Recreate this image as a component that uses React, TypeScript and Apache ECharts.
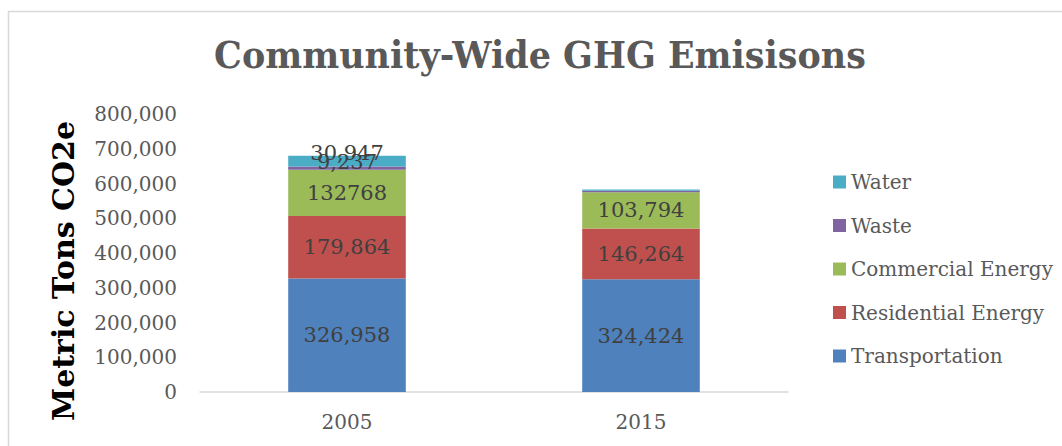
import React, { useEffect, useRef } from "react";
import * as echarts from "echarts";

const years = ["2005", "2015"];
const transportation = [326958, 324424];
const residential = [179864, 146264];
const commercial = [132768, 103794];
const waste = [9237, 4500];
const water = [30947, 3500];

const transportationLabels = ["326,958", "324,424"];
const residentialLabels = ["179,864", "146,264"];
const commercialLabels = ["132768", "103,794"];
const wasteLabels = ["9,237", ""];
const waterLabels = ["30,947", ""];

const yTicks = [0, 100000, 200000, 300000, 400000, 500000, 600000, 700000, 800000];

const FONT = "'DejaVu Serif', serif";
const GREY = "#595959";

export default function App() {
  const ref = useRef<HTMLDivElement>(null);
  useEffect(() => {
    const chart = echarts.init(ref.current!, null, { renderer: "svg" });
    const mk = (
      name: string,
      values: number[],
      labels: string[],
      color: string,
      offsetY: number
    ) => ({
      name,
      type: "bar",
      stack: "total",
      barWidth: "40%",
      itemStyle: { color },
      data: values.map((v, i) => ({
        value: v,
        label: {
          show: labels[i] !== "",
          position: "inside",
          offset: [0, offsetY],
          formatter: () => labels[i],
          color: "#404040",
          fontFamily: FONT,
          fontSize: 21,
        },
      })),
    });
    chart.setOption({
      animation: false,
      backgroundColor: "#ffffff",
      graphic: [
        {
          type: "rect",
          shape: { x: 8.5, y: 11.5, width: 1200, height: 600 },
          style: { fill: "none", stroke: "#d9d9d9", lineWidth: 1.5 },
          silent: true,
          z: -10,
        },
        {
          type: "text",
          x: 540,
          y: 55,
          scaleX: 0.92,
          style: {
            text: "Community-Wide GHG Emisisons",
            fontFamily: FONT,
            fontWeight: "bold",
            fontSize: 38,
            fill: GREY,
            textAlign: "center",
            textVerticalAlign: "middle",
          },
        },
        {
          type: "text",
          x: 63,
          y: 271,
          rotation: Math.PI / 2,
          style: {
            text: "Metric Tons CO2e",
            fontFamily: FONT,
            fontWeight: "bold",
            fontSize: 30,
            fill: "#000000",
            textAlign: "center",
            textVerticalAlign: "middle",
          },
        },
      ],
      legend: {
        orient: "vertical",
        left: 828,
        top: 167,
        itemWidth: 13,
        itemHeight: 13,
        itemGap: 23.5,
        icon: "rect",
        data: ["Water", "Waste", "Commercial Energy", "Residential Energy", "Transportation"],
        textStyle: { color: GREY, fontFamily: FONT, fontSize: 20, lineHeight: 20 },
      },
      grid: { left: 200, right: 274, top: 114, bottom: 54, containLabel: false },
      xAxis: {
        type: "category",
        data: years,
        axisLine: { lineStyle: { color: "#d9d9d9", width: 1.5 } },
        axisTick: { show: false },
        axisLabel: { color: GREY, fontFamily: FONT, fontSize: 20, margin: 20 },
      },
      yAxis: {
        type: "value",
        min: yTicks[0],
        max: yTicks[yTicks.length - 1],
        interval: 100000,
        splitLine: { show: false },
        axisLine: { show: false },
        axisTick: { show: false },
        axisLabel: {
          color: GREY,
          fontFamily: FONT,
          fontSize: 20,
          margin: 23,
          formatter: (v: number) => v.toLocaleString("en-US"),
        },
      },
      series: [
        mk("Transportation", transportation, transportationLabels, "#4f81bd", 0),
        mk("Residential Energy", residential, residentialLabels, "#c0504d", 0),
        mk("Commercial Energy", commercial, commercialLabels, "#9bbb59", 0),
        mk("Waste", waste, wasteLabels, "#8064a2", -6),
        mk("Water", water, waterLabels, "#4bacc6", -8),
      ],
    });
    return () => chart.dispose();
  }, []);
  return (
    <div
      ref={ref}
      style={{ position: "fixed", left: 0, top: 0, width: 1062, height: 446 }}
    />
  );
}
